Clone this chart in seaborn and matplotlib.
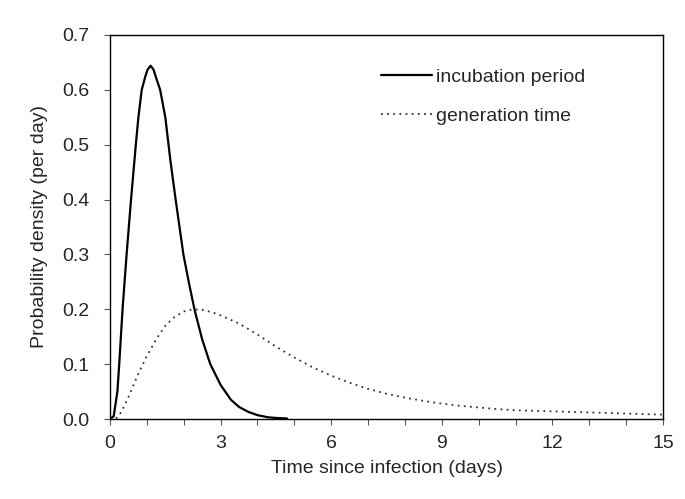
import numpy as np
import pandas as pd
import seaborn as sns
from matplotlib import pyplot as plt
from matplotlib.ticker import MultipleLocator

sns.set_style('ticks')
plt.rcParams['font.family'] = ['Liberation Sans', 'DejaVu Sans']

# incubation period density
incub_days = [0.0, 0.1, 0.2, 0.25, 0.34, 0.45, 0.57, 0.7, 0.77, 0.86, 0.96, 1.02, 1.1,
              1.18, 1.25, 1.36, 1.5, 1.64, 1.78, 1.99, 2.15, 2.29, 2.5, 2.72, 3.0,
              3.28, 3.5, 3.75, 4.0, 4.3, 4.5, 4.8]
incub_dens = [0.0, 0.005, 0.05, 0.1, 0.2, 0.3, 0.4, 0.5, 0.55, 0.6, 0.625, 0.637, 0.644,
              0.637, 0.622, 0.6, 0.55, 0.47, 0.4, 0.3, 0.245, 0.2, 0.145, 0.1, 0.062,
              0.035, 0.022, 0.013, 0.007, 0.003, 0.002, 0.001]

# generation time density
gen_days = [0.0, 0.15, 0.3, 0.5, 0.75, 1.0, 1.25, 1.5, 1.75, 2.0, 2.25, 2.5, 2.75,
            3.0, 3.5, 4.0, 4.5, 5.0, 5.5, 6.0, 6.5, 7.0, 7.5, 8.0, 8.5, 9.0, 9.5,
            10.0, 10.5, 11.0, 11.5, 12.0, 12.5, 13.0, 13.5, 14.0, 14.5, 15.0]
gen_dens = [0.0, 0.0, 0.012, 0.04, 0.08, 0.115, 0.145, 0.17, 0.186, 0.196, 0.2, 0.199, 0.195,
            0.189, 0.174, 0.154, 0.132, 0.112, 0.094, 0.079, 0.066, 0.055, 0.046, 0.039, 0.033,
            0.028, 0.024, 0.021, 0.018, 0.016, 0.015, 0.014, 0.013, 0.012, 0.011, 0.01, 0.009, 0.008]

df_incub = pd.DataFrame(dict(days=incub_days, density=incub_dens))
df_gen = pd.DataFrame(dict(days=gen_days, density=gen_dens))

fig = plt.figure(figsize=(6.85, 4.99), dpi=100)
ax = fig.add_axes([0.1606, 0.1603, 0.8074, 0.7696])

sns.lineplot(data=df_incub, x='days', y='density', ax=ax, color='black',
             linewidth=1.6, label='incubation period')
sns.lineplot(data=df_gen, x='days', y='density', ax=ax, color='#333333',
             linewidth=1.3, linestyle=(0, (1, 2.4)), label='generation time')

ax.set_xlim(0, 15)
ax.set_ylim(0, 0.7)
ax.xaxis.set_major_locator(MultipleLocator(3))
ax.xaxis.set_minor_locator(MultipleLocator(1))
ax.yaxis.set_major_locator(MultipleLocator(0.1))
ax.tick_params(axis='both', which='both', direction='out', length=4, width=0.8,
               color='#555555', labelsize=14)
ax.tick_params(axis='y', pad=11)
ax.tick_params(axis='x', pad=7.5)
for sp in ax.spines.values():
    sp.set_visible(True)
    sp.set_color('black')
    sp.set_linewidth(1.0)

ax.set_xlabel('Time since infection (days)', fontsize=14, labelpad=6)
ax.set_ylabel('Probability density (per day)', fontsize=14, labelpad=10)

ax.legend(loc='upper left', bbox_to_anchor=(0.49, 0.914), frameon=False,
          fontsize=14, handlelength=2.6, handletextpad=0.25,
          labelspacing=1.1, borderaxespad=0, borderpad=0)

fig.savefig('out.png', dpi=100)
